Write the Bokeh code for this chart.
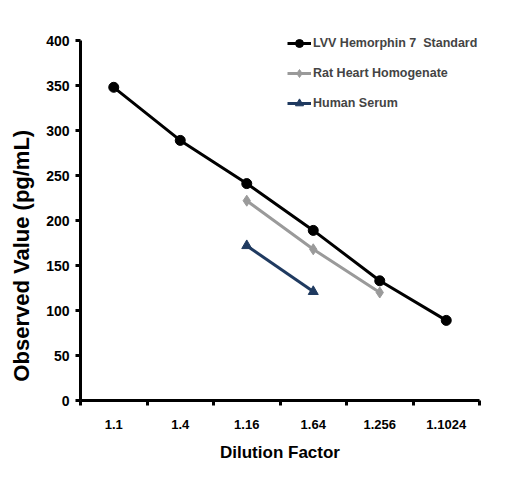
from bokeh.plotting import figure
from bokeh.models import FixedTicker, Legend, LegendItem, Range1d
from bokeh.embed import file_html
from bokeh.resources import INLINE

categories = ["1.1", "1.4", "1.16", "1.64", "1.256", "1.1024"]
standard = [348, 289, 241, 189, 133, 89]
rat_cats = ["1.16", "1.64", "1.256"]
rat = [222, 168, 120]
human_cats = ["1.16", "1.64"]
human = [172, 121]
y_ticks = [0, 50, 100, 150, 200, 250, 300, 350, 400]

FONT = "'Liberation Sans', Arial, sans-serif"

def pos(cats):
    return [categories.index(c) + 0.5 for c in cats]

p = figure(width=500, height=472, output_backend="svg", toolbar_location=None,
           x_range=Range1d(0, len(categories)), y_range=Range1d(0, 410),
           min_border_left=80, min_border_right=21, min_border_top=31, min_border_bottom=72)
p.xgrid.visible = False
p.ygrid.visible = False
p.outline_line_color = None

xs = pos(categories)
r1l = p.line(xs, standard, line_color="black", line_width=3)
r1m = p.scatter(xs, standard, marker="circle", size=10, fill_color="black", line_color="black")
r2l = p.line(pos(rat_cats), rat, line_color="#9a9a9a", line_width=3)
r2m = p.scatter(pos(rat_cats), rat, marker="diamond", size=11, fill_color="#9a9a9a", line_color="#9a9a9a")
r3l = p.line(pos(human_cats), human, line_color="#1f3a60", line_width=3)
r3m = p.scatter(pos(human_cats), human, marker="triangle", size=10, fill_color="#1f3a60", line_color="#1f3a60")

p.xaxis.ticker = FixedTicker(ticks=xs, minor_ticks=list(range(len(categories) + 1)))
p.xaxis.major_label_overrides = {x: c for x, c in zip(xs, categories)}
p.xaxis.major_tick_out = 0
p.xaxis.major_tick_in = 0
p.xaxis.minor_tick_out = 5
p.xaxis.minor_tick_in = 0
p.xaxis.minor_tick_line_width = 3
p.xaxis.minor_tick_line_color = "black"
p.yaxis.ticker = FixedTicker(ticks=y_ticks)
p.yaxis.bounds = (0, 400)
p.yaxis.major_tick_out = 5
p.yaxis.major_tick_in = 0
p.yaxis.minor_tick_line_color = None
p.yaxis.major_tick_line_width = 3

for ax in (p.xaxis, p.yaxis):
    ax.axis_line_width = 3
    ax.axis_line_color = "black"
    ax.major_label_text_font = FONT
    ax.major_label_text_font_style = "bold"
    ax.major_label_text_color = "black"
    ax.axis_label_text_font = FONT
    ax.axis_label_text_font_style = "bold"
    ax.axis_label_text_color = "black"

p.xaxis.major_label_text_font_size = "13px"
p.yaxis.major_label_text_font_size = "14px"
p.xaxis.axis_label = "Dilution Factor"
p.xaxis.axis_label_text_font_size = "17px"
p.xaxis.major_label_standoff = 14
p.xaxis.axis_label_standoff = 11
p.yaxis.axis_label = "Observed Value (pg/mL)" + "\u00a0" * 13
p.yaxis.axis_label_text_font_size = "22px"
p.yaxis.major_label_standoff = 6
p.yaxis.axis_label_standoff = 9

legend = Legend(items=[
    LegendItem(label="LVV Hemorphin 7  Standard", renderers=[r1l, r1m]),
    LegendItem(label="Rat Heart Homogenate", renderers=[r2l, r2m]),
    LegendItem(label="Human Serum", renderers=[r3l, r3m]),
], location=(207, 287))
legend.border_line_color = None
legend.background_fill_alpha = 0
legend.label_text_font = FONT
legend.label_text_font_style = "bold"
legend.label_text_font_size = "12.5px"
legend.glyph_width = 24
legend.glyph_height = 20
legend.label_height = 20
legend.label_standoff = 2
legend.spacing = 10
legend.margin = 0
legend.padding = 0
p.add_layout(legend)

open("out.html", "w").write(file_html(p, INLINE))
